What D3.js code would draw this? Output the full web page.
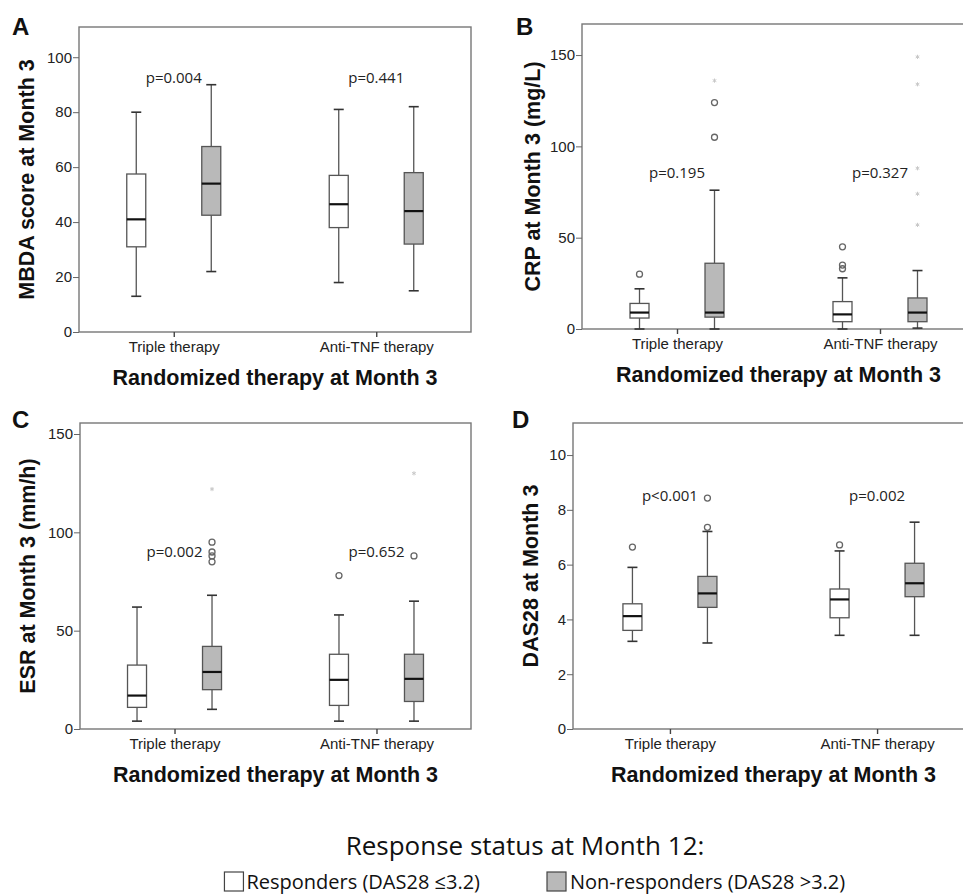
<!DOCTYPE html>
<html lang="en">
<head>
<meta charset="UTF-8">
<title>Response status at Month 12 - boxplots</title>
<script src="https://cdn.jsdelivr.net/npm/d3@7"></script>
<style>
  body { margin: 0; background: #fff; }
  svg { display: block; font-family: "Liberation Sans", Arial, sans-serif; }
  .calib { font-family: "Open Sans", "Noto Sans", sans-serif; }
</style>
</head>
<body>
<svg width="963" height="895"></svg>
<script>
const therapies = ["Triple therapy", "Anti-TNF therapy"];
const statuses = ["Responders (DAS28 \u22643.2)", "Non-responders (DAS28 >3.2)"];

// five-number boxes: [lower whisker, Q1, median, Q3, upper whisker]
// order: Triple/resp, Triple/non-resp, Anti-TNF/resp, Anti-TNF/non-resp
const mbdaBoxes = [[13, 31, 41, 57.5, 80], [22, 42.5, 54, 67.5, 90], [18, 38, 46.5, 57, 81], [15, 32, 44, 58, 82]];
const mbdaOutliers = [[], [], [], []];
const mbdaExtremes = [[], [], [], []];
const mbdaP = ["p=0.004", "p=0.441"];

const crpBoxes = [[0, 6, 9, 14, 22], [0, 6.5, 9, 36, 76], [0, 4, 8, 15, 28], [0.5, 4, 9, 17, 32]];
const crpOutliers = [[30], [105, 124], [45, 35, 33], []];
const crpExtremes = [[], [136], [], [149, 134, 88, 74, 57]];
const crpP = ["p=0.195", "p=0.327"];

const esrBoxes = [[4, 11, 17, 32.5, 62], [10, 20, 29, 42, 68], [4, 12, 25, 38, 58], [4, 14, 25.5, 38, 65]];
const esrOutliers = [[], [95, 90, 88, 85], [78], [88]];
const esrExtremes = [[], [122], [], [130]];
const esrP = ["p=0.002", "p=0.652"];

const dasBoxes = [[3.2, 3.6, 4.12, 4.57, 5.9], [3.14, 4.44, 4.95, 5.57, 7.21], [3.42, 4.06, 4.73, 5.11, 6.5], [3.42, 4.83, 5.32, 6.05, 7.55]];
const dasOutliers = [[6.64], [7.36, 8.43], [6.72], []];
const dasExtremes = [[], [], [], []];
const dasP = ["p<0.001", "p=0.002"];

const svg = d3.select("svg");

const panels = [
  { letter: "A", title: "MBDA score at Month 3", boxes: mbdaBoxes, outliers: mbdaOutliers, extremes: mbdaExtremes,
    p: mbdaP, pAt: 92.5, yMax: 111, ticks: [0, 20, 40, 60, 80, 100],
    left: 79, top: 27, right: 471, bottom: 332, letterX: 12, letterY: 35, titleX: 34 },
  { letter: "B", title: "CRP at Month 3 (mg/L)", boxes: crpBoxes, outliers: crpOutliers, extremes: crpExtremes,
    p: crpP, pAt: 85.5, yMax: 167, ticks: [0, 50, 100, 150],
    left: 582, top: 24, right: 975, bottom: 329, letterX: 516, letterY: 35, titleX: 540 },
  { letter: "C", title: "ESR at Month 3 (mm/h)", boxes: esrBoxes, outliers: esrOutliers, extremes: esrExtremes,
    p: esrP, pAt: 90, yMax: 155.6, ticks: [0, 50, 100, 150],
    left: 80, top: 423, right: 471, bottom: 729, letterX: 12, letterY: 428, titleX: 35 },
  { letter: "D", title: "DAS28 at Month 3", boxes: dasBoxes, outliers: dasOutliers, extremes: dasExtremes,
    p: dasP, pAt: 8.5, yMax: 11.17, ticks: [0, 2, 4, 6, 8, 10],
    left: 573, top: 423, right: 974, bottom: 729, letterX: 512, letterY: 428, titleX: 538 }
];

const lineCol = "#555";

panels.forEach(cfg => {
  const g = svg.append("g");
  const x = d3.scalePoint().domain(therapies).range([cfg.left, cfg.right]).padding(0.468);
  const sub = d3.scalePoint().domain(statuses).range([-37.5, 37.5]);
  const y = d3.scaleLinear().domain([0, cfg.yMax]).range([cfg.bottom, cfg.top]);
  const boxW = 19, capW = 10;

  // frame
  g.append("rect")
    .attr("x", cfg.left).attr("y", cfg.top)
    .attr("width", cfg.right - cfg.left).attr("height", cfg.bottom - cfg.top)
    .attr("fill", "none").attr("stroke", "#777").attr("stroke-width", 1.4);

  const yAxis = g.append("g")
    .attr("transform", `translate(${cfg.left},0)`)
    .call(d3.axisLeft(y).tickValues(cfg.ticks).tickSize(6).tickPadding(1).tickFormat(d3.format("d")));
  yAxis.select(".domain").remove();
  yAxis.selectAll("line").attr("stroke", "#666");
  yAxis.selectAll("text").attr("font-size", 15).attr("fill", "#222");

  const xAxis = g.append("g")
    .attr("transform", `translate(0,${cfg.bottom})`)
    .call(d3.axisBottom(x).tickSize(5).tickPadding(4));
  xAxis.select(".domain").remove();
  xAxis.selectAll("line").attr("stroke", "#444").attr("stroke-width", 1.4);
  xAxis.selectAll("text").attr("font-size", 15).attr("fill", "#222");

  // boxes
  const rows = [];
  therapies.forEach((t, i) => statuses.forEach((s, j) => {
    rows.push({ t, s, j, stats: cfg.boxes[i * 2 + j], out: cfg.outliers[i * 2 + j], ext: cfg.extremes[i * 2 + j] });
  }));

  rows.forEach(r => {
    const cx = x(r.t) + sub(r.s);
    const [lo, q1, med, q3, hi] = r.stats;
    const bg = g.append("g");
    bg.append("line").attr("x1", cx).attr("x2", cx).attr("y1", y(hi)).attr("y2", y(q3))
      .attr("stroke", lineCol).attr("stroke-width", 1.3);
    bg.append("line").attr("x1", cx).attr("x2", cx).attr("y1", y(q1)).attr("y2", y(lo))
      .attr("stroke", lineCol).attr("stroke-width", 1.3);
    [lo, hi].forEach(v => bg.append("line")
      .attr("x1", cx - capW / 2).attr("x2", cx + capW / 2).attr("y1", y(v)).attr("y2", y(v))
      .attr("stroke", "#333").attr("stroke-width", 1.6));
    bg.append("rect")
      .attr("x", cx - boxW / 2).attr("y", y(q3))
      .attr("width", boxW).attr("height", y(q1) - y(q3))
      .attr("fill", r.j === 0 ? "#fff" : "#b9b9b9")
      .attr("stroke", lineCol).attr("stroke-width", 1.3);
    bg.append("line").attr("x1", cx - boxW / 2).attr("x2", cx + boxW / 2)
      .attr("y1", y(med)).attr("y2", y(med))
      .attr("stroke", "#111").attr("stroke-width", 2.2);

    bg.selectAll("circle").data(r.out).join("circle")
      .attr("cx", cx).attr("cy", d => y(d)).attr("r", 3)
      .attr("fill", "none").attr("stroke", "#666").attr("stroke-width", 1.3);

    bg.selectAll("path.star").data(r.ext).join("path")
      .attr("class", "star")
      .attr("transform", d => `translate(${cx},${y(d)})`)
      .attr("d", d3.symbol(d3.symbolAsterisk, 12))
      .attr("fill", "none").attr("stroke", "#c8c8c8").attr("stroke-width", 1);
  });

  // p values
  g.selectAll("text.pval").data(cfg.p).join("text")
    .attr("class", "pval calib")
    .attr("x", (d, i) => x(therapies[i]))
    .attr("y", y(cfg.pAt))
    .attr("dy", "0.35em")
    .attr("text-anchor", "middle")
    .attr("font-size", 15)
    .attr("fill", "#222")
    .text(d => d);

  // titles
  g.append("text")
    .attr("transform", `translate(${cfg.titleX},${(cfg.top + cfg.bottom) / 2}) rotate(-90)`)
    .attr("text-anchor", "middle")
    .attr("font-size", 21.5).attr("font-weight", "bold").attr("fill", "#111")
    .text(cfg.title);

  g.append("text")
    .attr("x", (cfg.left + cfg.right) / 2).attr("y", cfg.bottom + 53)
    .attr("text-anchor", "middle")
    .attr("font-size", 21.5).attr("font-weight", "bold").attr("fill", "#111")
    .text("Randomized therapy at Month 3");

  g.append("text")
    .attr("x", cfg.letterX).attr("y", cfg.letterY)
    .attr("font-size", 24).attr("font-weight", "bold").attr("fill", "#111")
    .text(cfg.letter);
});

// legend
svg.append("text").attr("class", "calib")
  .attr("x", 525).attr("y", 855)
  .attr("text-anchor", "middle")
  .attr("font-size", 26).attr("fill", "#111")
  .text("Response status at Month 12:");

const legendFill = d3.scaleOrdinal().domain(statuses).range(["#fff", "#b9b9b9"]);
const t1 = svg.append("text").attr("class", "calib")
  .attr("x", 480).attr("y", 889).attr("text-anchor", "end")
  .attr("font-size", 20).attr("fill", "#111")
  .text(statuses[0]);
const w1 = t1.node().getComputedTextLength();
svg.append("rect").attr("x", 480 - w1 - 22).attr("y", 872).attr("width", 19).attr("height", 19)
  .attr("fill", legendFill(statuses[0])).attr("stroke", "#444").attr("stroke-width", 1.2);
svg.append("rect").attr("x", 547).attr("y", 872).attr("width", 19).attr("height", 19)
  .attr("fill", legendFill(statuses[1])).attr("stroke", "#444").attr("stroke-width", 1.2);
svg.append("text").attr("class", "calib")
  .attr("x", 570).attr("y", 889)
  .attr("font-size", 20).attr("fill", "#111")
  .text(statuses[1]);
</script>
</body>
</html>
